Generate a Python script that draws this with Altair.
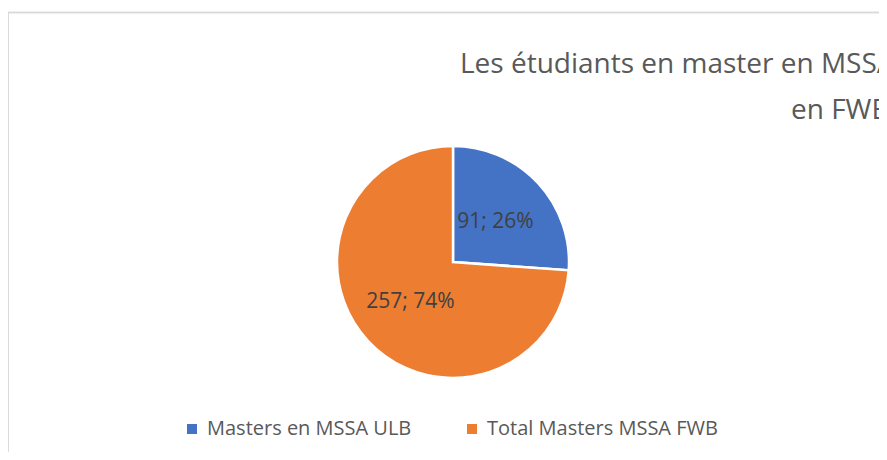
import altair as alt
import pandas as pd

categories = ["Masters en MSSA ULB", "Total Masters MSSA FWB"]
values = [91, 257]
percents = ["26%", "74%"]
colors = ["#4472C4", "#ED7D31"]
title_lines = ["Les étudiants en master en MSSA", "en FWB"]

df = pd.DataFrame({
    "cat": categories,
    "val": values,
    "order": [0, 1],
    "label": [f"{v}; {p}" for v, p in zip(values, percents)],
})

FONT = "Open Sans"
CX, CY = 445, 254

base = alt.Chart(df).encode(
    theta=alt.Theta("val:Q", stack=True),
    order=alt.Order("order:Q"),
)

pie = base.mark_arc(outerRadius=116, stroke="white", strokeWidth=2.5).encode(
    x=alt.value(CX), y=alt.value(CY),
    color=alt.Color(
        "cat:N",
        scale=alt.Scale(domain=categories, range=colors),
        sort=categories,
        legend=alt.Legend(
            title=None, orient="none", legendX=174, legendY=411,
            direction="horizontal", symbolType="square", symbolSize=100,
            symbolStrokeWidth=0, labelFont=FONT, labelFontSize=20,
            labelColor="#595959", columnPadding=50, labelOffset=5,
            labelLimit=400,
        ),
    ),
)

labels = base.mark_text(radius=58, font=FONT, fontSize=21, color="#404040").encode(
    x=alt.value(CX), y=alt.value(CY),
    text="label:N",
)

border_top = alt.Chart(df).mark_rule(color="#d9d9d9", strokeWidth=1.5).encode(
    x=alt.value(0), x2=alt.value(871), y=alt.value(4.5)
)
border_left = alt.Chart(df).mark_rule(color="#d9d9d9", strokeWidth=1.5).encode(
    x=alt.value(0), y=alt.value(4), y2=alt.value(452)
)

t1 = alt.Chart(pd.DataFrame({"t": [title_lines[0]]})).mark_text(
    align="left", baseline="alphabetic", font=FONT, fontSize=28, color="#595959"
).encode(x=alt.value(452), y=alt.value(65), text="t:N")
t2 = alt.Chart(pd.DataFrame({"t": [title_lines[1]]})).mark_text(
    align="left", baseline="alphabetic", font=FONT, fontSize=28, color="#595959"
).encode(x=alt.value(783), y=alt.value(111), text="t:N")

chart = alt.layer(border_top, border_left, pie, labels, t1, t2).properties(
    width=871, height=444, padding=0,
    autosize=alt.AutoSizeParams(type="none"),
).configure_view(stroke=None)

chart.save("out.html", embed_options={"renderer": "svg", "actions": False})
